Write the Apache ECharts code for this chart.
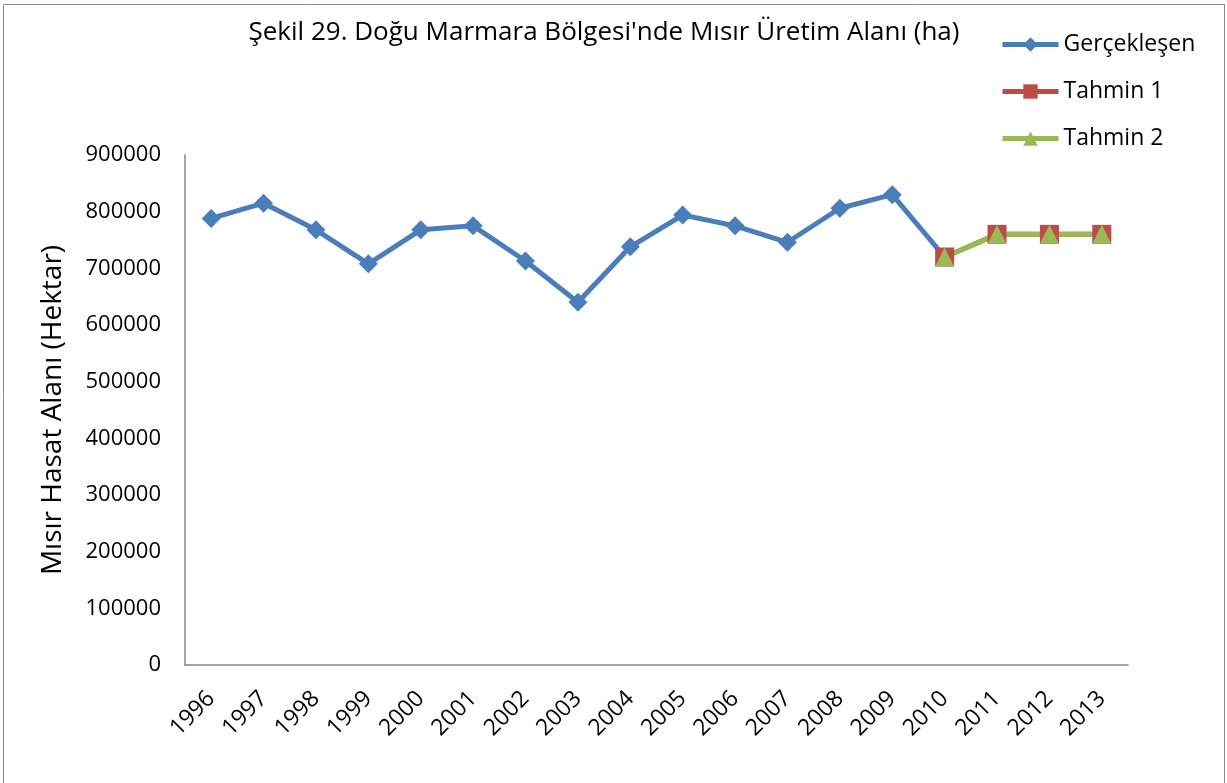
<!DOCTYPE html>
<html>
<head>
<meta charset="utf-8">
<script src="https://cdn.jsdelivr.net/npm/echarts@6/dist/echarts.min.js"></script>
<style>
html, body { margin: 0; padding: 0; background: #fff; }
#chart { width: 1227px; height: 783px; }
</style>
</head>
<body>
<div id="chart"></div>
<script>
const years = ['1996','1997','1998','1999','2000','2001','2002','2003','2004','2005','2006','2007','2008','2009','2010','2011','2012','2013']
const gerceklesen = [788000, 815000, 768000, 708000, 768000, 775000, 713000, 640000, 738000, 794000, 775000, 746000, 806000, 830000, 720000]
const tahmin1 = [null, null, null, null, null, null, null, null, null, null, null, null, null, null, 720000, 760000, 760000, 760000]
const tahmin2 = [null, null, null, null, null, null, null, null, null, null, null, null, null, null, 720000, 760000, 760000, 760000]

const FONT = 'Open Sans'
let chart = echarts.init(document.getElementById('chart'))
chart.setOption({
  animation: false,
  textStyle: { fontFamily: FONT },
  graphic: [{
    type: 'rect',
    shape: { x: 3.5, y: 4.5, width: 1221, height: 790 },
    style: { fill: 'none', stroke: '#8a8a8a', lineWidth: 1 }
  }],
  title: {
    text: "Şekil 29. Doğu Marmara Bölgesi'nde Mısır Üretim Alanı (ha)",
    left: 599, top: 15, textAlign: 'center',
    textStyle: { fontSize: 26, fontWeight: 'normal', color: '#000', fontFamily: FONT }
  },
  legend: {
    orient: 'vertical',
    left: 1000, top: 33, padding: 0,
    itemWidth: 56, itemHeight: 18, itemGap: 24,
    lineStyle: { width: 5 },
    textStyle: { fontSize: 23, color: '#000', fontFamily: FONT },
    data: ['Gerçekleşen', 'Tahmin 1', 'Tahmin 2']
  },
  grid: { left: 185, right: 99, top: 155, bottom: 118 },
  xAxis: {
    type: 'category',
    data: years,
    boundaryGap: true,
    axisLine: { lineStyle: { color: '#868686', width: 1.5 } },
    axisTick: { show: false },
    axisLabel: { rotate: 45, fontSize: 23, color: '#000', margin: 30 }
  },
  yAxis: {
    type: 'value',
    min: 0, max: 900000, interval: 100000,
    name: 'Mısır Hasat Alanı (Hektar)',
    nameLocation: 'middle', nameGap: 118, nameRotate: 90,
    nameTextStyle: { fontSize: 28, color: '#000', fontFamily: FONT },
    axisLine: { show: true, lineStyle: { color: '#868686', width: 1.5 } },
    axisTick: { show: false },
    splitLine: { show: false },
    axisLabel: { fontSize: 22, color: '#000', margin: 24, formatter: v => String(v) }
  },
  series: [
    {
      name: 'Gerçekleşen', type: 'line', data: gerceklesen,
      symbol: 'diamond', symbolSize: 19,
      lineStyle: { color: '#4A7EBB', width: 5 },
      itemStyle: { color: '#4A7EBB' }
    },
    {
      name: 'Tahmin 1', type: 'line', data: tahmin1,
      symbol: 'rect', symbolSize: 19,
      lineStyle: { color: '#BE4B48', width: 5 },
      itemStyle: { color: '#BE4B48' }
    },
    {
      name: 'Tahmin 2', type: 'line', data: tahmin2,
      symbol: 'triangle', symbolSize: 19,
      lineStyle: { color: '#98B954', width: 5 },
      itemStyle: { color: '#98B954' }
    }
  ]
})
</script>
</body>
</html>
